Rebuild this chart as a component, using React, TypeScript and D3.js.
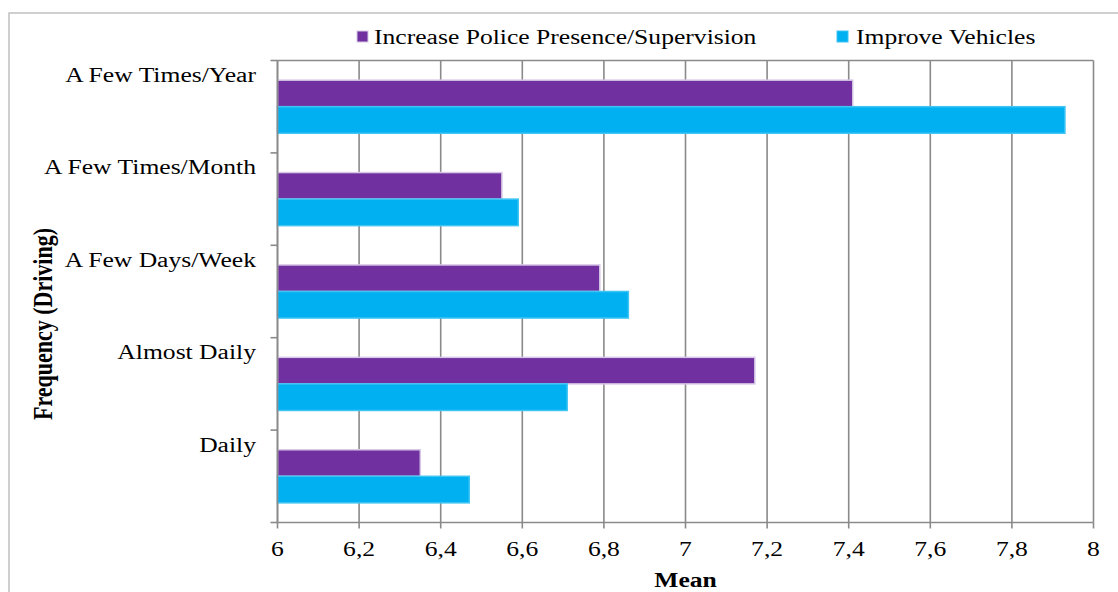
import React from "react";
import * as d3 from "d3";

// Survey means by driving frequency
const categories = [
  "A Few Times/Year",
  "A Few Times/Month",
  "A Few Days/Week",
  "Almost Daily",
  "Daily",
];
const seriesNames = ["Increase Police Presence/Supervision", "Improve Vehicles"];
const policeValues = [7.41, 6.55, 6.79, 7.17, 6.35];
const vehicleValues = [7.93, 6.59, 6.86, 6.71, 6.47];
const xTicks = [6, 6.2, 6.4, 6.6, 6.8, 7, 7.2, 7.4, 7.6, 7.8, 8];

const W = 1118;
const H = 592;
const plot = { left: 277.5, right: 1093.5, top: 60.5, bottom: 522.5 };
const colors = ["#7030A0", "#00B0F0"];
const strokes = ["#d6c8e6", "#3fc4f4"];
const gridColor = "#8a8a8a";
const font = "'Liberation Serif', 'Times New Roman', serif";
const SX = 1.28; // horizontal text stretch

export default function App() {
  const x = d3.scaleLinear().domain([6, 8]).range([plot.left, plot.right]);
  const y = d3
    .scaleBand<string>()
    .domain(categories)
    .range([plot.top, plot.bottom])
    .paddingInner(0)
    .paddingOuter(0);
  const sub = d3
    .scaleBand<string>()
    .domain(seriesNames)
    .range([0, y.bandwidth()])
    .paddingInner(0)
    .paddingOuter(0.74);
  const seriesValues = [policeValues, vehicleValues];
  const fmt = (v: number) => d3.format("~g")(v).replace(".", ",");

  const stretched = (
    tx: number,
    ty: number,
    content: string,
    anchor: "start" | "middle" | "end",
    size: number,
    weight: string | number = "normal",
    key?: string | number
  ) => (
    <text
      key={key}
      transform={`translate(${tx},${ty}) scale(${SX},1)`}
      textAnchor={anchor}
      dominantBaseline="central"
      fontFamily={font}
      fontSize={size}
      fontWeight={weight}
      fill="#000"
    >
      {content}
    </text>
  );

  const legendItems = [
    { name: seriesNames[0], mx: 357, tx: 374 },
    { name: seriesNames[1], mx: 837, tx: 856 },
  ];

  return (
    <svg
      width={W}
      height={H}
      style={{ position: "absolute", left: 0, top: 0, background: "#fff" }}
    >
      {/* outer chart frame */}
      <rect x={9} y={13} width={W} height={H} fill="none" stroke="#c0c0c0" strokeWidth={1.5} />

      {/* vertical gridlines */}
      {xTicks.map((t) => (
        <line
          key={`g${t}`}
          x1={x(t)}
          x2={x(t)}
          y1={plot.top}
          y2={plot.bottom}
          stroke={gridColor}
          strokeWidth={1.6}
        />
      ))}
      {/* plot top border */}
      <line x1={plot.left} x2={plot.right} y1={plot.top} y2={plot.top} stroke={gridColor} strokeWidth={1.6} />

      {/* bars */}
      {categories.map((c, i) =>
        seriesNames.map((s, j) => {
          const v = seriesValues[j][i];
          return (
            <rect
              key={`${c}-${s}`}
              x={x(6)}
              y={(y(c) ?? 0) + (sub(s) ?? 0)}
              width={x(v) - x(6)}
              height={sub.bandwidth()}
              fill={colors[j]}
              stroke={strokes[j]}
              strokeWidth={1.5}
            />
          );
        })
      )}

      {/* axes */}
      <line x1={plot.left} x2={plot.right} y1={plot.bottom} y2={plot.bottom} stroke={gridColor} strokeWidth={1.6} />
      <line x1={plot.left} x2={plot.left} y1={plot.top} y2={plot.bottom} stroke={gridColor} strokeWidth={1.6} />
      {xTicks.map((t) => (
        <line key={`xt${t}`} x1={x(t)} x2={x(t)} y1={plot.bottom} y2={plot.bottom + 6} stroke={gridColor} strokeWidth={1.6} />
      ))}
      {[...categories.map((c) => y(c) ?? 0), plot.bottom].map((yy, i) => (
        <line key={`yt${i}`} x1={plot.left - 7} x2={plot.left} y1={yy} y2={yy} stroke={gridColor} strokeWidth={1.6} />
      ))}

      {/* x tick labels */}
      {xTicks.map((t) => stretched(x(t), 549, fmt(t), "middle", 20, "normal", `xl${t}`))}

      {/* category labels */}
      {categories.map((c) => stretched(256, (y(c) ?? 0) + 15, c, "end", 20, "normal", `yl${c}`))}

      {/* axis titles */}
      {stretched((plot.left + plot.right) / 2, 580, "Mean", "middle", 20, "bold")}
      <text
        transform={`translate(42,324) rotate(-90) scale(1,${SX})`}
        textAnchor="middle"
        dominantBaseline="central"
        fontFamily={font}
        fontSize={22}
        fontWeight="bold"
      >
        Frequency (Driving)
      </text>

      {/* legend */}
      {legendItems.map((l, j) => (
        <g key={l.name}>
          <rect x={l.mx} y={31} width={11} height={11} fill={colors[j]} stroke={strokes[j]} strokeWidth={1} />
          {stretched(l.tx, 37, l.name, "start", 20)}
        </g>
      ))}
    </svg>
  );
}
